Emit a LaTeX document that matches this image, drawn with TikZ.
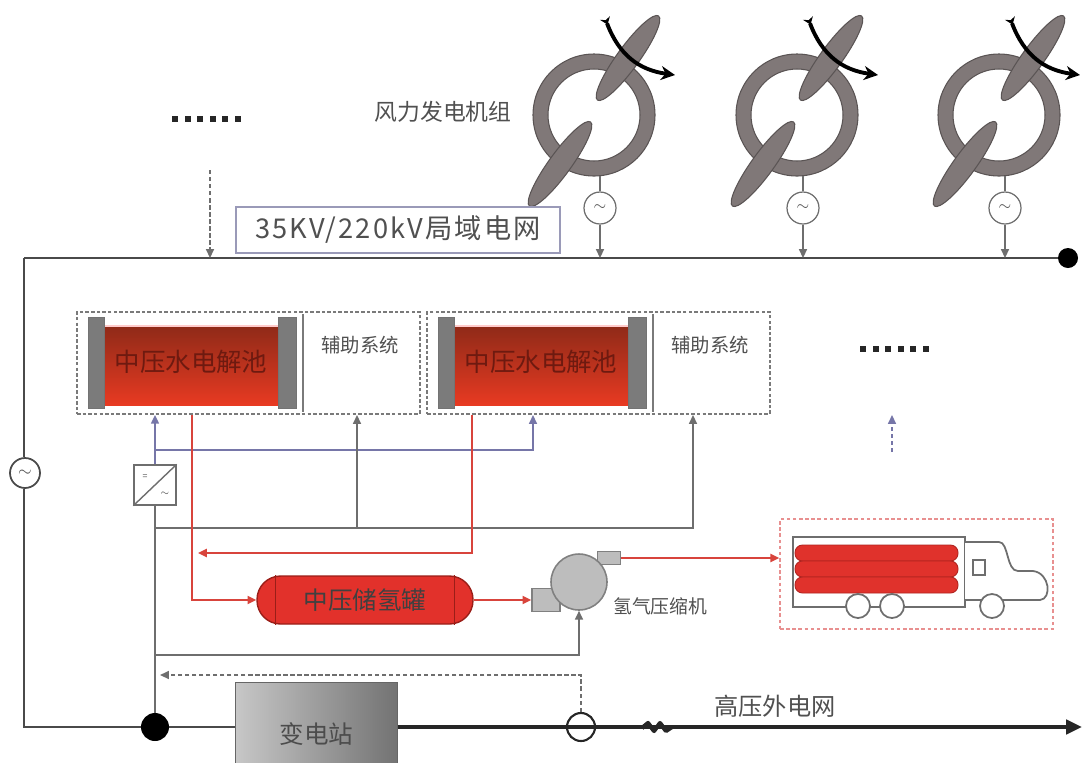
\documentclass[tikz,border=0pt]{standalone}
\usepackage{fontspec}
\setmainfont{Noto Sans CJK SC}
\usetikzlibrary{arrows.meta,calc}

\definecolor{textgray}{HTML}{505050}
\definecolor{buscol}{HTML}{4A4A4A}
\definecolor{wiregray}{HTML}{6E6E6E}
\definecolor{wireblue}{HTML}{7676A8}
\definecolor{h2red}{HTML}{D8443C}
\definecolor{framegray}{HTML}{7A7A7A}
\definecolor{labelblue}{HTML}{9A9AB8}
\definecolor{rotor}{HTML}{807878}
\definecolor{rotordark}{HTML}{5A5454}
\definecolor{capgray}{HTML}{7B7B7B}
\definecolor{eldark}{HTML}{8E2A18}
\definecolor{elred}{HTML}{E83A22}
\definecolor{eltext}{HTML}{6E1A10}
\definecolor{tankred}{HTML}{E2312B}
\definecolor{tankdark}{HTML}{9A1E18}
\definecolor{compgray}{HTML}{BDBDBD}
\definecolor{compdark}{HTML}{808080}
\definecolor{truckpink}{HTML}{E89090}
\definecolor{tubered}{HTML}{E0322C}
\definecolor{tubedark}{HTML}{B02420}

\tikzset{
  arr/.style={-{Triangle[length=5pt,width=4.5pt]}},
  busline/.style={draw=buscol, line width=1.5pt},
  gline/.style={draw=wiregray, line width=0.9pt},
  bline/.style={draw=wireblue, line width=0.9pt},
  rline/.style={draw=h2red, line width=1.2pt},
  dline/.style={draw=wiregray, line width=0.8pt, dash pattern=on 2.5pt off 1.5pt},
  dashframe/.style={draw=framegray, line width=1pt, dash pattern=on 2pt off 1.2pt, inner sep=0},
  blackdot/.style={circle, fill=black, inner sep=0},
  gen/.style={circle, draw=wiregray, line width=0.7pt, fill=white, minimum size=0.64cm, inner sep=0, font=\small},
  truckline/.style={draw=wiregray, line width=1pt},
  every node/.style={text=textgray},
  dotrow/.style={fill=black!85},
}

\begin{document}
\begin{tikzpicture}[x=0.02cm, y=-0.02cm]
\useasboundingbox (0,0) rectangle (1082,762);

% ---------- main AC bus ----------
\coordinate (busL) at (24,258);
\node[blackdot, minimum size=0.4cm] (busR) at (1068,258) {};
\draw[busline] (busL) -- (busR);

% ---------- wind turbines ----------
\node[font=\fontsize{13}{14}\selectfont] (wtlabel) at (443,112) {风力发电机组};
\foreach \tx [count=\i] in {594,797,999}{
  \fill[rotor, draw=rotordark, line width=0.6pt, even odd rule]
    (\tx,115) circle[radius=61] (\tx,115) circle[radius=46];
  \fill[rotor, draw=rotordark, line width=0.6pt, rotate around={54:(\tx-34,164)}]
    (\tx-34,164) ellipse[x radius=52, y radius=11];
  \fill[rotor, draw=rotordark, line width=0.6pt, rotate around={54:(\tx+34,58)}]
    (\tx+34,58) ellipse[x radius=52, y radius=11];
  \draw[line width=2.2pt, {Stealth[length=4pt,width=6pt,reversed]}-{Stealth[length=8pt,width=8pt]}]
    (\tx+11,18) .. controls (\tx+25,55) and (\tx+45,70) .. (\tx+81,75);
  \node[gen] (gen\i) at (\tx+6,208) {$\sim$};
  \draw[gline] (\tx+6,176) -- (gen\i.north);
  \draw[gline, arr] (gen\i.south) -- (gen\i.south |- busL);
}

% ---------- grid label and "more" markers ----------
\node[draw=labelblue, line width=0.9pt, fill=white, minimum width=6.48cm, minimum height=0.92cm, inner sep=0,
      font=\fontsize{15.5}{16}\selectfont\addfontfeature{LetterSpace=8}] (gridlabel) at (398,230) {35KV/220kV局域电网};
\foreach \k in {0,...,5} \fill[dotrow] (172+\k*12.5,116) rectangle ++(6,6);
\coordinate (moreTop) at (210,170);
\draw[dline, arr] (moreTop) -- (moreTop |- busL);

\foreach \k in {0,...,5} \fill[dotrow] (860+\k*12.5,346) rectangle ++(6,6);
\coordinate (moreRight) at (892,452);
\coordinate (moreRightTip) at (892,415);
\draw[bline, dash pattern=on 2pt off 2pt, arr] (moreRight) -- (moreRightTip);

% ---------- electrolyser units ----------
\foreach \ox [count=\i] in {0,350}{
  \node[dashframe, minimum width=6.86cm, minimum height=2.04cm] (box\i) at (248.5+\ox,363) {};
  \draw[framegray, line width=1pt] (303+\ox,314) -- (303+\ox,412);
  \shade[top color=eldark, bottom color=elred] (104+\ox,325) rectangle (278+\ox,405);
  \draw[white!80!red, line width=0.6pt] (104+\ox,326) -- (278+\ox,326);
  \fill[capgray, draw=black!55, line width=0.4pt] (88+\ox,317) rectangle (104+\ox,408);
  \fill[capgray, draw=black!55, line width=0.4pt] (278+\ox,317) rectangle (296+\ox,408);
  \node[font=\fontsize{14.5}{15}\selectfont, text=eltext] (stack\i) at (191+\ox,362) {中压水电解池};
  \node[font=\fontsize{11}{12}\selectfont] (aux\i) at (360+\ox,345) {辅助系统};
}

% ---------- left feeder, AC source and substation ----------
\node[circle, draw=buscol, line width=1pt, fill=white, minimum size=0.6cm, inner sep=0] (acL) at (25,473) {$\sim$};
\coordinate (botL) at (24,727);
\node[blackdot, minimum size=0.56cm] (dotB) at (155,727) {};
\node[draw=black!60, left color=black!22, right color=black!55, minimum width=3.24cm, minimum height=2.08cm,
      font=\fontsize{14}{15}\selectfont, text=black!70] (sub) at (316.5,734) {变电站};
\draw[busline] (busL) -- (busL |- acL.north);
\draw[busline] (busL |- acL.south) -- (botL) -- (dotB);
\draw[busline] (dotB) -- (dotB -| sub.west);

% ---------- high-voltage export line ----------
\coordinate (gridR) at (1082,727);
\draw[line width=2.6pt, draw=black!85, -{Triangle[length=9pt,width=8pt]}] (dotB -| sub.east) -- (gridR);
\node[circle, draw=black!85, line width=1.2pt, minimum size=0.56cm, inner sep=0] (meter) at (581,727) {};
\draw[line width=2.4pt, black!85, line join=round] (642,728) -- (648,723) -- (654,731) -- (660,723) -- (666,731) -- (672,727);
\node[font=\fontsize{13.8}{14}\selectfont] (gridtext) at (775,706) {高压外电网};
\coordinate (fbTip) at (160,675);
\draw[dline, arr] (meter.north) |- (fbTip);

% ---------- converter ----------
\node[draw=wiregray, line width=0.8pt, fill=white, minimum width=0.84cm, minimum height=0.8cm, inner sep=0] (conv) at (155,485) {};
\draw[wiregray, line width=0.8pt] (conv.south west) -- (conv.north east);
\node[font=\tiny, inner sep=0] (convdc) at ($(conv.center)+(-10,-8)$) {=};
\node[font=\tiny, inner sep=0] (convac) at ($(conv.center)+(10,9)$) {$\sim$};

% ---------- hydrogen tank and compressor ----------
\node[draw=tankdark, line width=0.8pt, fill=tankred, rounded corners=0.47cm, minimum width=4.32cm, minimum height=0.96cm,
      font=\fontsize{14}{15}\selectfont, text=black!75] (tank) at (365,600) {中压储氢罐};
\draw[tankdark, line width=0.8pt] ($(tank.north west)+(19,0)$) -- ($(tank.south west)+(19,0)$);
\draw[tankdark, line width=0.8pt] ($(tank.north east)+(-19,0)$) -- ($(tank.south east)+(-19,0)$);

\node[draw=compdark, line width=0.8pt, fill=compgray, minimum width=0.56cm, minimum height=0.46cm, inner sep=0] (compbase) at (546,600) {};
\node[draw=compdark, line width=0.8pt, fill=compgray, minimum width=0.46cm, minimum height=0.26cm, inner sep=0] (outlet) at (609,558) {};
\node[circle, draw=compdark, line width=0.9pt, fill=compgray, minimum size=1.12cm, inner sep=0] (comp) at (579,582) {};
\node[font=\fontsize{10.7}{11}\selectfont, anchor=west] (complabel) at (607,606) {氢气压缩机};

% ---------- tube trailer ----------
\node[draw=truckpink, line width=0.9pt, dash pattern=on 2pt off 1.5pt, minimum width=5.46cm, minimum height=2.2cm, inner sep=0] (truckbox) at (916.5,574) {};
\draw[truckline, fill=white] (793,537) rectangle (965,607);
\foreach \ty in {545,561,577}
  \filldraw[fill=tubered, draw=tubedark, line width=0.5pt, rounded corners=0.15cm] (795,\ty) rectangle (958,\ty+16);
\draw[truckline, fill=white] (965,542) -- (999,542) .. controls (1009,542) and (1006,571) .. (1018,571)
  -- (1033,571) .. controls (1050,573) and (1052,599) .. (1040,600) -- (965,600);
\draw[truckline] (973,560) rectangle (985,575);
\foreach \wx in {858,892,992}
  \draw[truckline, fill=white] (\wx,606) circle[radius=12];

% ---------- power and hydrogen connections ----------
\draw[gline] (conv.south) -- (dotB);
\draw[bline, arr] (conv.north) -- (conv.north |- box1.south);
\coordinate (bj) at (155,450);
\coordinate (stackIn2) at (533,415);
\draw[bline, arr] (bj) -| (stackIn2);
\coordinate (gj) at (155,528);
\coordinate (auxIn1) at (357,415);
\coordinate (auxIn2) at (693,415);
\draw[gline, arr] (gj) -| (auxIn2);
\draw[gline, arr] (auxIn1 |- gj) -- (auxIn1);
\coordinate (cj) at (155,655);
\draw[gline, arr] (cj) -| (comp.south);

\coordinate (h2out1) at (192,415);
\coordinate (h2out2) at (472,415);
\coordinate (h2ret) at (198,553);
\draw[rline, arr] (h2out1) |- (tank.west);
\draw[rline, arr] (h2out2) |- (h2ret);
\draw[rline, arr] (tank.east) -- (compbase.west);
\draw[rline, arr] (outlet.east) -- (outlet.east -| truckbox.west);
\end{tikzpicture}
\end{document}
